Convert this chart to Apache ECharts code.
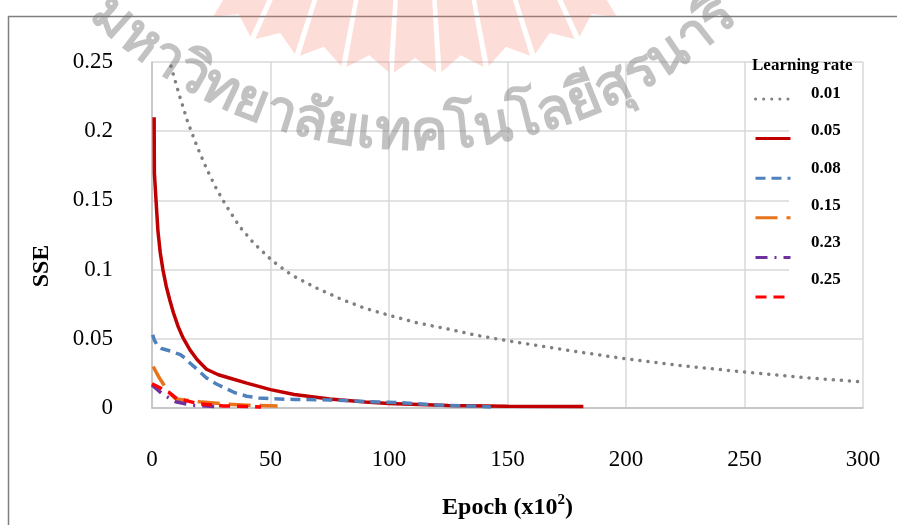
<!DOCTYPE html>
<html>
<head>
<meta charset="utf-8">
<script src="https://cdn.jsdelivr.net/npm/echarts@6/dist/echarts.min.js"></script>
<style>
html, body { margin: 0; padding: 0; background: #fff; }
#chart { width: 897px; height: 525px; }
</style>
</head>
<body>
<div id="chart"></div>
<script>
// learning rates shown in the legend
const rates = ['0.01', '0.05', '0.08', '0.15', '0.23', '0.25'];

// [epoch (x10^2), SSE]
const sse001 = [[8, 0.247], [11, 0.229], [15, 0.207], [19, 0.189], [23, 0.173], [27, 0.159], [31, 0.147],
    [37, 0.131], [43, 0.119], [51, 0.106], [59, 0.096], [69, 0.087], [80, 0.0785], [90, 0.072],
    [100, 0.067], [112, 0.0615], [125, 0.057], [137, 0.0525], [150, 0.0486], [175, 0.0418],
    [200, 0.0355], [225, 0.0303], [250, 0.026], [275, 0.022], [300, 0.0188]];
const sse005 = [[0.9, 0.21], [1.0, 0.17], [1.7, 0.15], [2.5, 0.128], [3.5, 0.112], [4.6, 0.1], [6, 0.088],
    [7.5, 0.078], [9, 0.069], [11, 0.059], [13, 0.051], [16, 0.042], [19, 0.035], [23, 0.028],
    [28, 0.024], [33, 0.0215], [40, 0.018], [50, 0.0133], [60, 0.0097], [75, 0.0065], [90, 0.0043],
    [100, 0.0033], [125, 0.0018], [150, 0.0012], [182, 0.001]];
const sse008 = [[0.3, 0.053], [1, 0.049], [2, 0.046], [4, 0.043], [8, 0.041], [12, 0.0385], [14, 0.036],
    [16, 0.0325], [19, 0.028], [23, 0.0217], [27, 0.0175], [30, 0.015], [35, 0.011], [40, 0.0085],
    [45, 0.0073], [50, 0.0067], [60, 0.0062], [75, 0.0058], [92, 0.0045], [105, 0.0038],
    [120, 0.0022], [143, 0.0008]];
const sse015 = [[0.5, 0.030], [3, 0.022], [7, 0.0115], [10, 0.0065], [20, 0.0045], [30, 0.003], [40, 0.002], [53, 0.0015]];
const sse023 = [[0, 0.0166], [4.5, 0.010], [10, 0.0045], [17, 0.002], [28, 0.001]];
const sse025 = [[0, 0.0175], [7, 0.0115], [10.5, 0.0068], [20, 0.003], [30, 0.0015], [46, 0.0008]];

const seriesData = [sse001, sse005, sse008, sse015, sse023, sse025];
const colors = ['#808080', '#C00000', '#4F81BD', '#E8731A', '#7030A0', '#FF0000'];
const dashes = [[0.1, 8], 'solid', [10, 6], [22, 9], [12, 7, 2, 7], [11, 7]];
const serif = 'Liberation Serif';

// watermark text that sits on the picture
const watermark = 'มหาวิทยาลัยเทคโนโลยีสุรนารี';

let chart = echarts.init(document.getElementById('chart'));

// faint emblem at the top (ribbon tails around a circle above the page)
const cx = 415, cy = -318;
let deco = [];
for (let i = 0; i < 9; i++) {
    let a0 = (-31.1 + i * 7) * Math.PI / 180;
    let a1 = a0 + 6.2 * Math.PI / 180;
    let am = (a0 + a1) / 2;
    let p = (a, r) => [cx + r * Math.sin(a), cy + r * Math.cos(a)];
    deco.push({
        type: 'polygon', z: 100, silent: true,
        shape: { points: [p(a0, 250), p(a1, 250), p(a1, 391), p(am, 376), p(a0, 391)] },
        style: { fill: 'rgba(248,120,100,0.25)' }
    });
}

// watermark glyphs laid along an arc
let ctx = document.createElement('canvas').getContext('2d');
ctx.font = 'bold 56px sans-serif';
let clusters = watermark.match(/.[\u0E31\u0E34-\u0E3A\u0E47-\u0E4E]*/g);
let widths = clusters.map(c => ctx.measureText(c).width);
let total = widths.reduce((a, b) => a + b, 0) - widths[0] / 2 - widths[widths.length - 1] / 2;
let span = 84 * Math.PI / 180, R = 452;
let run = 0;
clusters.forEach((c, i) => {
    let s = run + widths[i] / 2 - widths[0] / 2;
    run += widths[i];
    let phi = -span / 2 + span * s / total;
    deco.push({
        type: 'text', z: 100, silent: true,
        x: cx + R * Math.sin(phi), y: cy + R * Math.cos(phi), rotation: phi,
        style: {
            text: c, align: 'center', verticalAlign: 'middle',
            fontFamily: 'sans-serif', fontSize: 56, fontWeight: 'bold', fill: 'rgba(120,120,120,0.45)'
        }
    });
});

let option = {
    animation: false,
    grid: { left: 152, right: 34, top: 62, bottom: 117 },
    title: {
        text: 'Learning rate', left: 752, top: 57, padding: 0,
        textStyle: { fontFamily: serif, fontSize: 17, fontWeight: 'bold', color: '#000' }
    },
    legend: [
        {   // line samples
            data: rates, orient: 'vertical', left: 754, top: 92, padding: 0,
            itemWidth: 35, itemHeight: 14, itemGap: 27, selectedMode: false,
            itemStyle: { opacity: 0 },
            lineStyle: { width: 3 },
            formatter: () => '', textStyle: { fontSize: 1 }
        },
        {   // labels
            data: rates, orient: 'vertical', left: 806, top: 84, padding: 0,
            icon: 'none', itemWidth: 0, itemHeight: 20, itemGap: 18.6, selectedMode: false,
            textStyle: { fontFamily: serif, fontSize: 17, fontWeight: 'bold', color: '#000' }
        }
    ],
    xAxis: {
        type: 'value', min: 0, max: 300, interval: 50,
        name: '{a|Epoch (x10}{s|2}{a|)}', nameLocation: 'middle', nameGap: 85,
        nameTextStyle: {
            rich: {
                a: { fontFamily: serif, fontSize: 24, fontWeight: 'bold', color: '#000' },
                s: { fontFamily: serif, fontSize: 15, fontWeight: 'bold', color: '#000', padding: [0, 0, 14, 0] }
            }
        },
        axisLine: { lineStyle: { color: '#bfbfbf', width: 1.5 } },
        axisTick: { show: false },
        splitLine: { lineStyle: { color: '#d9d9d9', width: 1.5 } },
        axisLabel: { margin: 40, fontFamily: serif, fontSize: 23, color: '#000' }
    },
    yAxis: {
        type: 'value', min: 0, max: 0.25, interval: 0.05,
        name: 'SSE', nameLocation: 'middle', nameGap: 98,
        nameTextStyle: { fontFamily: serif, fontSize: 24, fontWeight: 'bold', color: '#000', padding: [0, 62, 0, 0] },
        axisLine: { show: true, lineStyle: { color: '#bfbfbf', width: 1.5 } },
        axisTick: { show: false },
        splitLine: { lineStyle: { color: '#d9d9d9', width: 1.5 } },
        axisLabel: { margin: 39, fontFamily: serif, fontSize: 23, color: '#000' }
    },
    graphic: [
        // outer chart frame
        { type: 'rect', silent: true, shape: { x: 8.5, y: 16.5, width: 1000, height: 1000 },
          style: { fill: 'transparent', stroke: '#7f7f7f', lineWidth: 1.5 } },
        // white patch behind the legend labels
        { type: 'rect', z: 1, silent: true, shape: { x: 789, y: 64, width: 73, height: 234 }, style: { fill: '#fff' } }
    ].concat(deco),
    series: seriesData.map((d, i) => ({
        name: rates[i],
        type: 'line',
        data: d,
        symbol: 'none',
        lineStyle: { color: colors[i], width: 3.5, type: dashes[i], cap: i === 0 ? 'round' : 'butt' },
        itemStyle: { color: colors[i] }
    }))
};

chart.setOption(option);
</script>
</body>
</html>
